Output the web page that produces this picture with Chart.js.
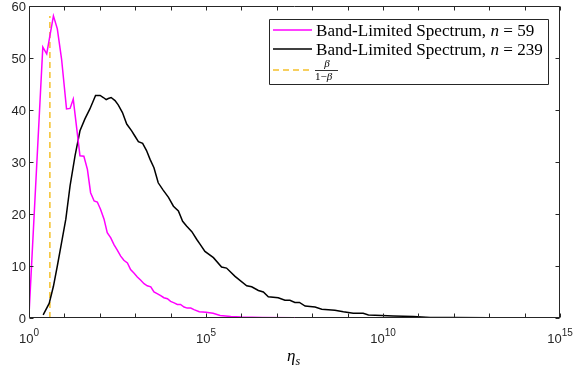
<!DOCTYPE html>
<html><head><meta charset="utf-8">
<script src="https://cdn.jsdelivr.net/npm/chart.js@4/dist/chart.umd.min.js"></script>
<style>html,body{margin:0;padding:0;background:#fff}#wrap{width:573px;height:372px}</style>
</head><body><div id="wrap"><canvas id="c" width="573" height="372"></canvas></div>
<script>
// exponents of eta_s (log10) and counts
const n59LogX = [0,0.39,0.5,0.69,0.80,0.92,1.06,1.16,1.25,1.44,1.55,1.65,1.74,1.84,1.93,2.02,2.12,2.21,2.31,2.40,2.49,2.59,2.68,2.78,2.87,2.97,3.06,3.15,3.25,3.34,3.44,3.53,3.62,3.72,3.81,3.91,4.00,4.10,4.19,4.28,4.38,4.47,4.57,4.66,4.81,5.0,5.2,5.4,5.7,6.0,6.6,7.5,8.5,9.4];
const n59Y    = [0.6,52.1,50.8,58.1,55.6,49.8,40.2,40.3,42.1,31.2,31.1,28.6,24.1,22.5,22.3,20.9,19.0,16.4,15.4,14.1,13.1,11.9,11.1,10.6,9.3,8.6,7.9,7.3,6.6,6.2,6.0,5.0,4.7,4.3,3.9,3.7,3.2,2.9,2.6,2.6,2.1,1.9,1.9,1.6,1.2,1.1,0.9,0.5,0.3,0.2,0.1,0.05,0.02,0];
const n239LogX = [0.40,0.57,0.69,0.80,0.92,1.04,1.16,1.30,1.44,1.58,1.72,1.88,2.01,2.10,2.18,2.24,2.32,2.43,2.52,2.64,2.76,2.90,2.99,3.09,3.21,3.32,3.42,3.53,3.65,3.79,3.94,4.08,4.22,4.34,4.45,4.60,4.74,4.83,4.97,5.21,5.44,5.58,5.82,6.15,6.29,6.48,6.62,6.76,7.04,7.23,7.37,7.51,7.64,7.80,8.08,8.27,8.64,8.88,9.16,9.44,9.59,9.96,10.29,10.86,11.33,12.0,13.0,14.0,15.0];
const n239Y    = [0.6,2.8,6.1,10,14.5,19,25.4,31.2,36,38.3,40.2,42.8,42.8,42.4,42.0,42.2,42.4,41.8,41.0,39.5,37.3,36.0,35.0,33.9,33.6,32.2,30.5,28.9,26.0,24.6,23.2,21.5,20.6,18.6,17.7,16.6,15.1,14.2,12.8,11.6,9.8,9.6,8.0,6.2,6.0,5.3,5.0,4.1,3.9,3.4,3.4,3.0,3.0,2.3,2.1,1.7,1.5,1.2,0.9,0.9,0.6,0.5,0.4,0.3,0.1,0.08,0.04,0.02,0];
const betaLogX = [0.59,0.59];
const betaY = [0,58.1];
const yTicks = [0,10,20,30,40,50,60];
const xDecades = [0,1,2,3,4,5,6,7,8,9,10,11,12,13,14,15];
const xLabelDecades = [0,5,10,15];
const legendLabels = ['Band-Limited Spectrum, ', 'Band-Limited Spectrum, '];
const legendN = ['59','239'];

const toPts = (lx, ys) => lx.map((e,i)=>({x:Math.pow(10,e), y:ys[i]}));
const AX = '#262626';
const SERIF = '"Liberation Serif", "DejaVu Serif", serif';
const SANS = '"Liberation Sans", Arial, sans-serif';

const frame = {
  id:'frame',
  afterDraw(chart){
    const {ctx, chartArea:a, scales:{x,y}} = chart;
    ctx.save();
    ctx.strokeStyle = AX; ctx.lineWidth = 1;
    const L=Math.round(a.left)+0.5, R=Math.round(a.right)-0.5, T=Math.round(a.top)+0.5, B=Math.round(a.bottom)-0.5;
    ctx.beginPath(); ctx.rect(L,T,R-L,B-T); ctx.stroke();
    ctx.beginPath();
    xDecades.forEach(d=>{
      const px=Math.round(x.getPixelForValue(Math.pow(10,d)))+0.5;
      ctx.moveTo(px,B); ctx.lineTo(px,B-4);
      ctx.moveTo(px,T); ctx.lineTo(px,T+4);
    });
    yTicks.forEach(v=>{
      const py=Math.round(y.getPixelForValue(v))+0.5;
      ctx.moveTo(L,py); ctx.lineTo(L+4,py);
      ctx.moveTo(R,py); ctx.lineTo(R-4,py);
    });
    ctx.stroke();
    // y tick labels
    ctx.fillStyle = AX; ctx.textAlign='right'; ctx.textBaseline='middle';
    ctx.font='13px '+SANS;
    yTicks.forEach(v=>{ ctx.fillText(String(v), 26, y.getPixelForValue(v)+1); });
    ctx.textAlign='left';
    // x tick labels 10^d
    ctx.textBaseline='alphabetic';
    xLabelDecades.forEach(d=>{
      const px=x.getPixelForValue(Math.pow(10,d));
      ctx.font='13px '+SANS;
      const w1=ctx.measureText('10').width;
      ctx.font='10px '+SANS;
      const w2=ctx.measureText(String(d)).width;
      const x0=px-(w1+w2)/2;
      ctx.font='13px '+SANS;
      ctx.fillText('10',x0,343);
      ctx.font='10px '+SANS;
      ctx.fillText(String(d),x0+w1,336);
    });
    // x title eta_s
    ctx.fillStyle='#000';
    ctx.font='italic 17px '+SERIF;
    ctx.fillText('\u03B7',287,361);
    const we=ctx.measureText('\u03B7').width;
    ctx.font='italic 12px '+SERIF;
    ctx.fillText('s',287+we,365);
    // legend
    const bx=269, by=19, bw=279, bh=65;
    ctx.fillStyle='#fff'; ctx.fillRect(bx,by,bw,bh);
    ctx.strokeStyle=AX; ctx.beginPath(); ctx.rect(bx+0.5,by+0.5,bw,bh); ctx.stroke();
    const ds = chart.data.datasets;
    const rows=[30,49,70];
    ds.forEach((d,i)=>{
      ctx.save();
      ctx.strokeStyle=d.borderColor; ctx.lineWidth=1.5;
      ctx.setLineDash(d.borderDash||[]);
      ctx.beginPath(); ctx.moveTo(273,rows[i]); ctx.lineTo(312,rows[i]); ctx.stroke();
      ctx.restore();
    });
    const measureRow = (i,fs)=>{
      ctx.font=fs+'px '+SERIF; let w=ctx.measureText(legendLabels[i]).width;
      ctx.font='italic '+fs+'px '+SERIF; w+=ctx.measureText('n').width;
      ctx.font=fs+'px '+SERIF; w+=ctx.measureText(' = '+legendN[i]).width;
      return w;
    };
    const fs = 15*227/measureRow(1,15);
    ctx.fillStyle='#000'; ctx.textBaseline='middle';
    for(let i=0;i<2;i++){
      let cx=316;
      ctx.font=fs+'px '+SERIF;
      ctx.fillText(legendLabels[i],cx,rows[i]+1); cx+=ctx.measureText(legendLabels[i]).width;
      ctx.font='italic '+fs+'px '+SERIF;
      ctx.fillText('n',cx,rows[i]+1); cx+=ctx.measureText('n').width;
      ctx.font=fs+'px '+SERIF;
      ctx.fillText(' = '+legendN[i],cx,rows[i]+1);
    }
    // fraction beta/(1-beta)
    ctx.font='italic 11px '+SERIF;
    ctx.textAlign='center';
    ctx.fillText('\u03B2',327,64);
    ctx.beginPath(); ctx.moveTo(315,70.5); ctx.lineTo(338,70.5); ctx.lineWidth=0.8; ctx.strokeStyle='#000'; ctx.stroke();
    ctx.textAlign='left';
    ctx.font='11px '+SERIF;
    ctx.fillText('1\u2212',315,77);
    const w1=ctx.measureText('1\u2212').width;
    ctx.font='italic 11px '+SERIF;
    ctx.fillText('\u03B2',315+w1,77);
    ctx.restore();
  }
};

new Chart(document.getElementById('c'), {
  type:'line',
  data:{datasets:[
    {label:'Band-Limited Spectrum, n = 59', data:toPts(n59LogX,n59Y), borderColor:'#FF00FF', borderWidth:1.5, pointRadius:0, tension:0, fill:false},
    {label:'Band-Limited Spectrum, n = 239', data:toPts(n239LogX,n239Y), borderColor:'#000000', borderWidth:1.5, pointRadius:0, tension:0, fill:false},
    {label:'beta/(1-beta)', data:toPts(betaLogX,betaY), borderColor:'#F5C02A', borderWidth:1.5, borderDash:[6,4], pointRadius:0, tension:0, fill:false}
  ]},
  options:{
    responsive:false, animation:false,
    layout:{padding:{top:6,right:13,left:0,bottom:0}},
    plugins:{legend:{display:false}, tooltip:{enabled:false}},
    scales:{
      x:{type:'logarithmic', min:1, max:1e15,
        grid:{display:false, drawTicks:false}, border:{display:false},
        ticks:{display:false},
        afterFit:s=>{s.height=54;}},
      y:{type:'linear', min:0, max:60,
        grid:{display:false, drawTicks:false}, border:{display:false},
        ticks:{display:false},
        afterFit:s=>{s.width=29;}}
    }
  },
  plugins:[frame]
});
</script></body></html>
